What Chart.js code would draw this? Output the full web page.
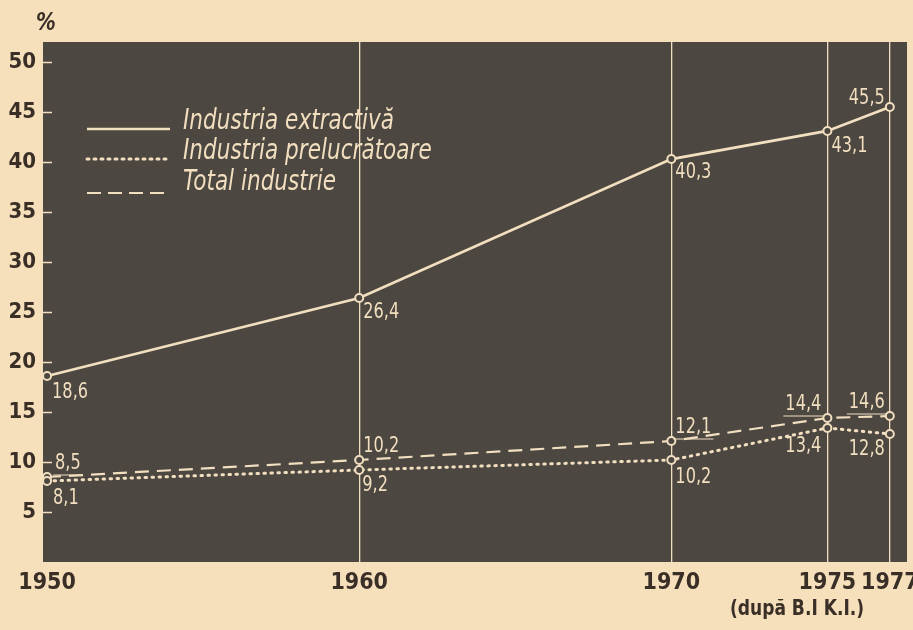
<!DOCTYPE html>
<html><head><meta charset="utf-8">
<script src="https://cdn.jsdelivr.net/npm/chart.js@4/dist/chart.umd.min.js"></script>
<style>
html,body{margin:0;padding:0;background:#f6dfbb;}
#wrap{width:913px;height:630px;position:relative;}
</style></head>
<body><div id="wrap"><canvas id="c" width="913" height="630"></canvas></div>
<script>
const years = [1950, 1960, 1970, 1975, 1977];
const extractiva = [18.6, 26.4, 40.3, 43.1, 45.5];
const prelucratoare = [8.1, 9.2, 10.2, 13.4, 12.8];
const totalIndustrie = [8.5, 10.2, 12.1, 14.4, 14.6];
const seriesNames = ['Industria extractivă', 'Industria prelucrătoare', 'Total industrie'];
const yTicks = [5, 10, 15, 20, 25, 30, 35, 40, 45, 50];
const xTicks = [1950, 1960, 1970, 1975, 1977];

const LIGHT = '#f1dfbf';
const DARK_BG = '#4d4742';
const INK = '#3a2f27';
const NARROW = "'Liberation Sans Narrow','DejaVu Sans Condensed','Arial Narrow',sans-serif";

function pts(vals){ return vals.map((v,i)=>({x:years[i], y:v})); }

// label placement: [dx, dy, align, underline]
const placement = [
  [[5,17,'left',0],[4,15,'left',0],[4,14,'left',0],[4,16,'left',0],[-5,-8,'right',0]],
  [[6,18,'left',0],[3,16,'left',0],[4,18,'left',0],[-6,19,'right',0],[-5,16,'right',0]],
  [[8,-13,'left',1],[4,-13,'left',0],[4,-13,'left',1],[-6,-13,'right',1],[-5,-13,'right',1]]
];

function drawScaledText(ctx, txt, x, y, font, sx, sy, align){
  ctx.save();
  ctx.font = font;
  ctx.translate(x, y);
  ctx.scale(sx, sy);
  ctx.textAlign = align; ctx.textBaseline = 'middle';
  ctx.fillText(txt, 0, 0);
  ctx.restore();
}

const deco = {
  id:'deco',
  beforeDraw(chart){
    const {ctx, chartArea:a} = chart;
    ctx.save();
    ctx.fillStyle = '#f6dfbb';
    ctx.fillRect(0,0,chart.width,chart.height);
    ctx.fillStyle = DARK_BG;
    ctx.fillRect(a.left, a.top, a.right-a.left, a.bottom-a.top);
    ctx.restore();
  },
  afterDatasetsDraw(chart){
    const {ctx, chartArea:a, scales} = chart;
    const ys = scales.y;
    ctx.save();
    ctx.strokeStyle = LIGHT; ctx.lineWidth = 1.5;
    yTicks.forEach(v=>{
      const py = Math.round(ys.getPixelForValue(v))+0.5;
      ctx.beginPath(); ctx.moveTo(a.left, py); ctx.lineTo(a.left+9, py); ctx.stroke();
    });
    ctx.fillStyle = LIGHT; ctx.strokeStyle = LIGHT; ctx.lineWidth = 1;
    chart.data.datasets.forEach((ds, di)=>{
      const meta = chart.getDatasetMeta(di);
      meta.data.forEach((el, i)=>{
        const [dx, dy, al, ul] = placement[di][i];
        const txt = ds.data[i].y.toFixed(1).replace('.', ',');
        const font = "18px " + NARROW;
        drawScaledText(ctx, txt, el.x+dx, el.y+dy, font, 1, 1.15, al);
        if (ul){
          ctx.font = font;
          const w = ctx.measureText(txt).width;
          const x0 = al==='left' ? el.x+dx : el.x+dx-w;
          const uy = el.y+dy+11;
          ctx.beginPath(); ctx.moveTo(x0-2, uy); ctx.lineTo(x0+w+2, uy); ctx.stroke();
        }
      });
    });
    const legY = [129, 159, 193];
    const txtY = [122, 152, 183];
    const dashes = [[], [2,5], [14,7]];
    const widths = [2.5, 3, 2.2];
    for (let k=0;k<3;k++){
      ctx.save();
      ctx.strokeStyle = LIGHT; ctx.lineWidth = widths[k];
      ctx.setLineDash(dashes[k]); ctx.lineCap = k===1 ? 'round':'butt';
      ctx.beginPath(); ctx.moveTo(87, legY[k]); ctx.lineTo(170, legY[k]); ctx.stroke();
      ctx.restore();
      ctx.fillStyle = LIGHT;
      drawScaledText(ctx, seriesNames[k], 183, txtY[k], "italic 24px " + NARROW, 1, 1.2, 'left');
    }
    ctx.restore();
  },
  afterDraw(chart){
    const ctx = chart.ctx;
    ctx.save();
    ctx.fillStyle = INK;
    drawScaledText(ctx, '%', 46, 24, "italic bold 22px " + NARROW, 1, 1.1, 'center');
    drawScaledText(ctx, '(după B.I K.I.)', 797, 610, "bold 19px " + NARROW, 1, 1.1, 'center');
    ctx.restore();
  }
};

const common = { pointRadius:4, pointHoverRadius:4, pointBorderWidth:2, pointBackgroundColor:DARK_BG, pointBorderColor:LIGHT, borderColor:LIGHT, tension:0, fill:false };

new Chart(document.getElementById('c'), {
  type:'line',
  data:{ datasets:[
    Object.assign({label:seriesNames[0], data:pts(extractiva), borderWidth:2.8}, common),
    Object.assign({label:seriesNames[1], data:pts(prelucratoare), borderWidth:3, borderDash:[1.5,5.5], borderCapStyle:'round'}, common),
    Object.assign({label:seriesNames[2], data:pts(totalIndustrie), borderWidth:2.2, borderDash:[14,8]}, common)
  ]},
  options:{
    responsive:false, animation:false,
    layout:{ padding:{ top:42, right:6, left:0, bottom:0 } },
    plugins:{ legend:{display:false}, tooltip:{enabled:false} },
    scales:{
      x:{ type:'linear', min:1949.87, max:1977.55,
        afterBuildTicks(s){ s.ticks = xTicks.map(v=>({value:v})); },
        afterFit(s){ s.height = 68; s.paddingLeft = 0; s.paddingRight = 0; },
        grid:{ drawTicks:false, drawOnChartArea:true, color:(c)=> (c.tick && c.tick.value===1950) ? 'rgba(0,0,0,0)' : LIGHT, lineWidth:1.3 },
        border:{ display:false },
        ticks:{ padding:7, color:INK, font:{ family:NARROW, size:23, weight:'bold' }, callback:(v)=>String(v), maxRotation:0, autoSkip:false }
      },
      y:{ min:0, max:52,
        afterBuildTicks(s){ s.ticks = yTicks.map(v=>({value:v})); },
        afterFit(s){ s.width = 43; s.paddingTop = 0; s.paddingBottom = 0; },
        grid:{ display:false, drawTicks:false },
        border:{ display:false },
        ticks:{ padding:7, color:INK, font:{ family:NARROW, size:22, weight:'bold' } }
      }
    }
  },
  plugins:[deco]
});
</script></body></html>
